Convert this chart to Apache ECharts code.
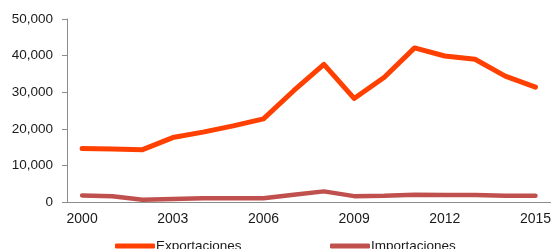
<!DOCTYPE html>
<html><head><meta charset="utf-8">
<script src="https://cdn.jsdelivr.net/npm/echarts@6/dist/echarts.min.js"></script>
<style>html,body{margin:0;padding:0;background:#fff}#c{width:554px;height:249px}</style>
</head><body><div id="c"></div>
<script>
const years = ['2000','2001','2002','2003','2004','2005','2006','2007','2008','2009','2010','2011','2012','2013','2014','2015'];
const exportaciones = [14600,14500,14300,17600,19100,20800,22700,30400,37600,28300,34100,42100,39900,39000,34400,31400];
const importaciones = [1800,1600,600,800,1000,1000,1000,2000,2900,1600,1700,2000,1900,1900,1700,1700];
const yTicks = {min:0, max:50000, interval:10000};

const chart = echarts.init(document.getElementById('c'));
const font = '"Liberation Sans", Arial, sans-serif';
chart.setOption({
  animation:false,
  grid:{left:67,right:2,top:19,bottom:47,containLabel:false},
  legend:[
    {data:['Exportaciones'],left:110,top:234,itemWidth:40,itemHeight:5,icon:'roundRect',
     textStyle:{fontFamily:font,fontSize:13.5,color:'#1a1a1a',padding:[0,0,0,-4]}},
    {data:['Importaciones'],left:325,top:234,itemWidth:40,itemHeight:5,icon:'roundRect',
     textStyle:{fontFamily:font,fontSize:13.5,color:'#1a1a1a',padding:[0,0,0,-4]}}
  ],
  xAxis:{type:'category',data:years,boundaryGap:true,
    axisLine:{lineStyle:{color:'#8c8c8c',width:1}},
    axisTick:{interval:0,length:5,lineStyle:{color:'#8c8c8c'}},
    axisLabel:{interval:2,margin:10,fontFamily:font,fontSize:14,color:'#1a1a1a'},
    splitLine:{show:false}},
  yAxis:{type:'value',min:yTicks.min,max:yTicks.max,interval:yTicks.interval,
    axisLine:{show:true,lineStyle:{color:'#8c8c8c',width:1}},
    axisTick:{show:true,length:5,lineStyle:{color:'#8c8c8c'}},
    splitLine:{show:false},
    axisLabel:{margin:14,fontFamily:font,fontSize:13.5,color:'#1a1a1a',
      formatter:v=>v.toLocaleString('en-US')}},
  series:[
    {name:'Exportaciones',type:'line',data:exportaciones,showSymbol:false,symbol:'none',
     lineStyle:{color:'#ff4000',width:5,cap:'round',join:'round'},itemStyle:{color:'#ff4000'}},
    {name:'Importaciones',type:'line',data:importaciones,showSymbol:false,symbol:'none',
     lineStyle:{color:'#c0504d',width:4.5,cap:'round',join:'round'},itemStyle:{color:'#c0504d'}}
  ]
});
</script></body></html>
